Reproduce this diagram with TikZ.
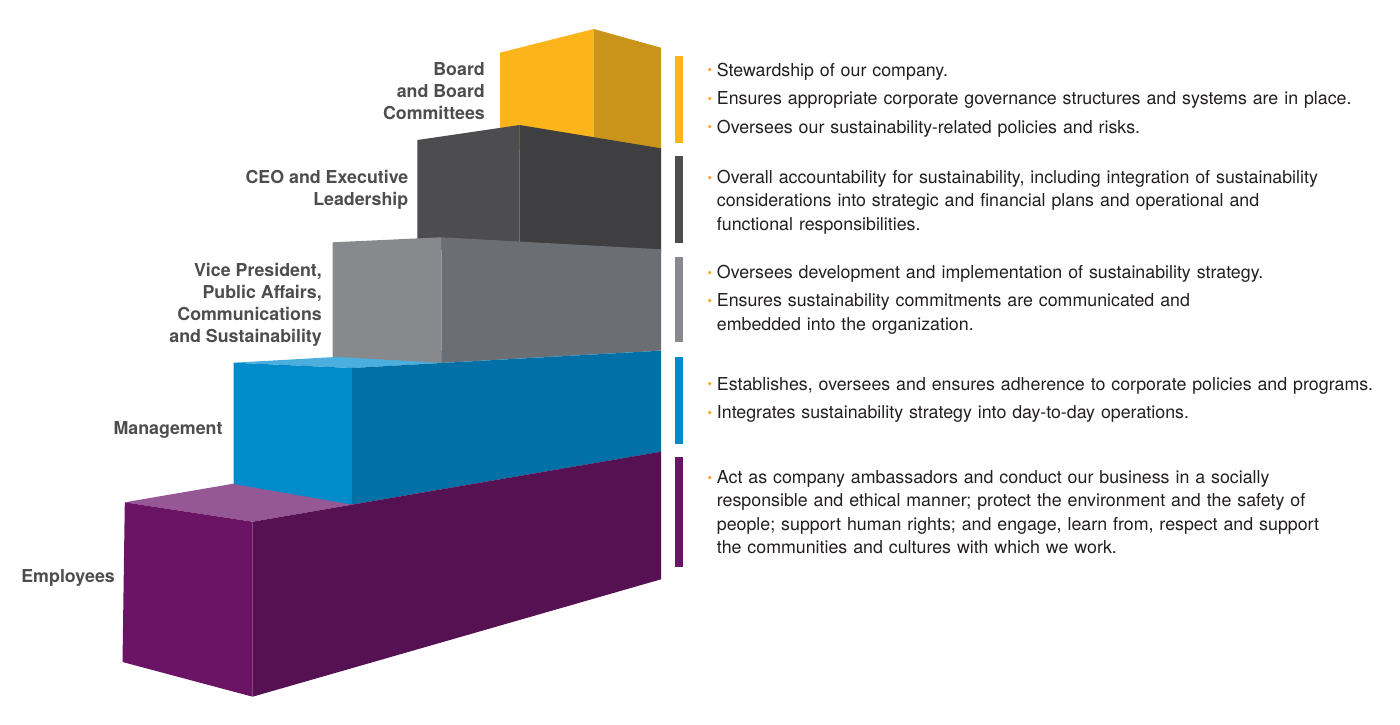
\documentclass[tikz,border=0pt]{standalone}
\usepackage{fontspec}
\setmainfont{TeX Gyre Heros}
\usetikzlibrary{positioning}

\definecolor{boardlt}{HTML}{FBB41A}
\definecolor{boarddk}{HTML}{C99419}
\definecolor{ceolt}{HTML}{4D4D4F}
\definecolor{ceodk}{HTML}{3F3F41}
\definecolor{vplt}{HTML}{87898C}
\definecolor{vpdk}{HTML}{6B6E72}
\definecolor{mgmtlt}{HTML}{008BCB}
\definecolor{mgmtdk}{HTML}{0070A6}
\definecolor{mgmttop}{HTML}{4BAEDC}
\definecolor{emplt}{HTML}{6B1466}
\definecolor{empdk}{HTML}{561153}
\definecolor{emptop}{HTML}{965895}
\definecolor{labelgray}{HTML}{4D4D4F}
\definecolor{bodytext}{HTML}{231F20}
\definecolor{dotorange}{HTML}{F9A51A}

\newcommand{\bitem}{\hangindent=8.7pt\hangafter=1
  \makebox[8.7pt][l]{\hspace{-.5pt}\textcolor{dotorange}{\raisebox{.12ex}{\scalebox{.72}{\textbullet}}}}}

\begin{document}
\begin{tikzpicture}[x=1pt,y=-1pt,
  level/.style={font=\fontsize{17.8}{22}\selectfont\bfseries, text=labelgray,
    align=right, anchor=base east, inner sep=0pt},
  duty/.style={font=\fontsize{17.8}{23.5}\selectfont, text=bodytext,
    text width=690pt, anchor=base west, inner sep=0pt},
  bar/.style={fill=#1}]
\useasboundingbox (0,0) rectangle (1400,724);

\fill[boardlt] (500,52.7) -- (593.7,29) -- (593.7,150) -- (500,150) -- cycle;
\fill[boarddk] (593.7,29) -- (661,47.7) -- (661,150) -- (593.7,150) -- cycle;
\fill[ceolt] (417.4,140) -- (519.6,125) -- (519.6,250) -- (417.4,250) -- cycle;
\fill[ceodk] (519.6,125) -- (661,148.3) -- (661,252) -- (519.6,250) -- cycle;
\fill[mgmttop] (233.7,362.7) -- (352,368) -- (661,350.7) -- (542.4,345.4) -- cycle;
\fill[vplt] (332.6,242.3) -- (441.5,237.3) -- (441.5,362.7) -- (332.6,356.7) -- cycle;
\fill[vpdk] (441.5,237.3) -- (661,249.3) -- (661,350.5) -- (441.5,362.7) -- cycle;
\fill[emptop] (124.8,502.3) -- (252.6,521.7) -- (661,451.7) -- (533.2,432.3) -- cycle;
\fill[mgmtlt] (233.7,362.7) -- (352,368) -- (352,504.5) -- (233.7,484) -- cycle;
\fill[mgmtdk] (352,368) -- (661,350.7) -- (661,451.7) -- (352,504.5) -- cycle;
\fill[emplt] (124.8,502.3) -- (252.6,521.7) -- (252.6,696.7) -- (122.5,662) -- cycle;
\fill[empdk] (252.6,521.7) -- (661,451.7) -- (661,579.3) -- (252.6,696.7) -- cycle;

\fill[bar=boardlt] (675,56) rectangle (683,143.3);
\fill[bar=ceolt] (675,156) rectangle (683,242.7);
\fill[bar=vplt] (675,256.7) rectangle (683,342);
\fill[bar=mgmtlt] (675,357.3) rectangle (683,444.3);
\fill[bar=emplt] (675,457.3) rectangle (683,566.7);

\node[level] (board) at (485,119.3) {Board\\and Board\\Committees};
\node[level] (ceo) at (408.5,205) {CEO and Executive\\Leadership};
\node[level] (vp) at (322,342.3) {Vice President,\\Public Affairs,\\Communications\\and Sustainability};
\node[level] (mgmt) at (222.7,434.3) {Management};
\node[level] (emp) at (115,582.7) {Employees};

\node[duty] (boardduty) at (708,76) {\setlength{\parskip}{5pt}%
  \bitem Stewardship of our company.\par
  \bitem Ensures appropriate corporate governance structures and systems are in place.\par
  \bitem Oversees our sustainability-related policies and risks.\par};
\node[duty] (ceoduty) at (708,183.3) {\setlength{\parskip}{5pt}%
  \bitem Overall accountability for sustainability, including integration of sustainability\newline
  considerations into strategic and financial plans and operational and\newline
  functional responsibilities.\par};
\node[duty] (vpduty) at (708,278.3) {\setlength{\parskip}{5pt}%
  \bitem Oversees development and implementation of sustainability strategy.\par
  \bitem Ensures sustainability commitments are communicated and\newline
  embedded into the organization.\par};
\node[duty] (mgmtduty) at (708,390) {\setlength{\parskip}{5pt}%
  \bitem Establishes, oversees and ensures adherence to corporate policies and programs.\par
  \bitem Integrates sustainability strategy into day-to-day operations.\par};
\node[duty] (empduty) at (708,483.3) {\setlength{\parskip}{5pt}%
  \bitem Act as company ambassadors and conduct our business in a socially\newline
  responsible and ethical manner; protect the environment and the safety of\newline
  people; support human rights; and engage, learn from, respect and support\newline
  the communities and cultures with which we work.\par};
\end{tikzpicture}
\end{document}
